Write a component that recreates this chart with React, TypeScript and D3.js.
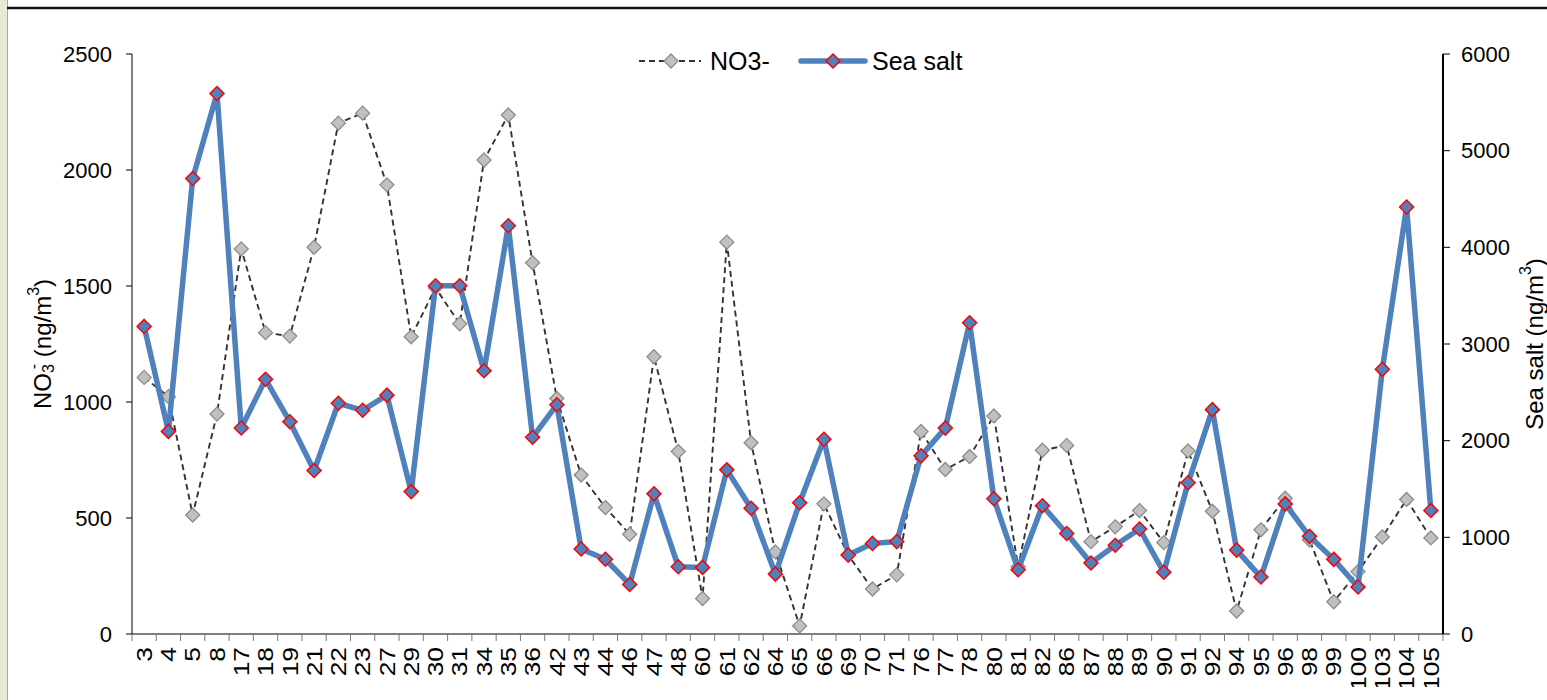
import React from 'react';
import * as d3 from 'd3';

const categories = ['3','4','5','8','17','18','19','21','22','23','27','29','30','31','34','35','36','42','43','44','46','47','48','60','61','62','64','65','66','69','70','71','76','77','78','80','81','82','86','87','88','89','90','91','92','94','95','96','98','99','100','103','104','105'];

const no3 = [1106,1023,513,948,1660,1299,1284,1667,2202,2245,1936,1281,1492,1337,2043,2237,1600,1015,685,545,430,1195,787,153,1689,824,354,35,561,340,194,255,873,709,765,940,290,792,813,398,462,532,394,789,529,99,449,585,406,139,269,418,580,414];

const seaSalt = [3182,2096,4712,5592,2131,2635,2196,1691,2387,2314,2471,1473,3603,3603,2723,4223,2035,2372,880,773,513,1450,696,689,1698,1301,620,1358,2015,818,937,956,1843,2130,3220,1400,665,1327,1040,734,918,1086,639,1564,2321,868,589,1346,1010,772,486,2738,4417,1277];

const leftTicks = [0, 500, 1000, 1500, 2000, 2500];
const rightTicks = [0, 1000, 2000, 3000, 4000, 5000, 6000];
const seriesNames = ['NO3-', 'Sea salt'];

const W = 1547, H = 700;
const X0 = 132, X1 = 1443, Y0 = 634, Y1 = 54;
const FONT = 'Liberation Sans, Arial, sans-serif';
const BLUE = '#4F81BD';

const diamond = (r: number) => `M0,${-r}L${r},0L0,${r}L${-r},0Z`;

export default function App() {
  const x = d3.scaleBand<string>().domain(categories).range([X0, X1]).padding(0);
  const cx = (c: string) => (x(c) as number) + x.bandwidth() / 2;
  const yL = d3.scaleLinear().domain([0, 2500]).range([Y0, Y1]);
  const yR = d3.scaleLinear().domain([0, 6000]).range([Y0, Y1]);

  const lineL = d3.line<number>().x((_, i) => cx(categories[i])).y(d => yL(d));
  const lineR = d3.line<number>().x((_, i) => cx(categories[i])).y(d => yR(d));

  const boundaries = d3.range(categories.length + 1).map(i => X0 + i * x.bandwidth());

  return (
    <div style={{ position: 'absolute', left: 0, top: 0 }}>
      <svg width={W} height={H} style={{ display: 'block', background: '#fff' }} fontFamily={FONT}>
        <defs>
          <clipPath id="chartClip">
            <rect x={0} y={0} width={W} height={687} />
          </clipPath>
        </defs>
        {/* frame */}
        <rect x={0} y={0} width={7} height={H} fill="#EAE9D6" />
        <line x1={7.5} y1={0} x2={7.5} y2={H} stroke="#A8A8A0" strokeWidth={1} />
        <line x1={7} y1={8} x2={W} y2={8} stroke="#111" strokeWidth={2.5} />

        {/* left axis */}
        <line x1={X0} y1={Y1} x2={X0} y2={Y0} stroke="#000" strokeWidth={1} />
        {leftTicks.map(t => (
          <g key={'l' + t}>
            <line x1={X0 - 6} x2={X0} y1={yL(t)} y2={yL(t)} stroke="#000" strokeWidth={1} />
            <text x={112} y={yL(t)} textAnchor="end" dominantBaseline="central" fontSize={22} fill="#000">{t}</text>
          </g>
        ))}
        {/* right axis */}
        <line x1={X1} y1={Y1} x2={X1} y2={Y0} stroke="#000" strokeWidth={2} />
        {rightTicks.map(t => (
          <g key={'r' + t}>
            <line x1={X1} x2={X1 + 7} y1={yR(t)} y2={yR(t)} stroke="#000" strokeWidth={1} />
            <text x={1461} y={yR(t)} textAnchor="start" dominantBaseline="central" fontSize={22} fill="#000">{t}</text>
          </g>
        ))}
        {/* bottom axis */}
        <line x1={X0} y1={Y0} x2={X1} y2={Y0} stroke="#000" strokeWidth={1.2} />
        {boundaries.map((b, i) => (
          <line key={'b' + i} x1={b} x2={b} y1={Y0} y2={Y0 + 7} stroke="#777" strokeWidth={1} />
        ))}
        <g clipPath="url(#chartClip)">
          {categories.map(c => (
            <text key={'c' + c} transform={`translate(${cx(c)},647) rotate(-90) scale(1.2,1)`} textAnchor="end" dominantBaseline="central" fontSize={22} fill="#000">{c}</text>
          ))}
        </g>

        {/* axis titles */}
        <text transform={`translate(42,${(Y0 + Y1) / 2}) rotate(-90)`} textAnchor="middle" dominantBaseline="central" fontSize={24} fill="#000">
          NO<tspan fontSize={16} dy={6}>3</tspan><tspan fontSize={16} dy={-15} dx={-5}>-</tspan><tspan dy={9}> (ng/m</tspan><tspan fontSize={16} dy={-9}>3</tspan><tspan dy={9}>)</tspan>
        </text>
        <text transform={`translate(1534,${(Y0 + Y1) / 2}) rotate(-90)`} textAnchor="middle" dominantBaseline="central" fontSize={24} fill="#000">
          Sea salt (ng/m<tspan fontSize={16} dy={-9}>3</tspan><tspan dy={9}>)</tspan>
        </text>

        {/* NO3 series */}
        <path d={lineL(no3) || ''} fill="none" stroke="#333" strokeWidth={1.9} strokeDasharray="6,4" />
        {no3.map((v, i) => (
          <path key={'n' + i} d={diamond(7)} transform={`translate(${cx(categories[i])},${yL(v)})`} fill="#C0C0C0" stroke="#8C8C8C" strokeWidth={1.3} />
        ))}

        {/* Sea salt series */}
        <path d={lineR(seaSalt) || ''} fill="none" stroke={BLUE} strokeWidth={5.5} strokeLinejoin="round" />
        {seaSalt.map((v, i) => (
          <path key={'s' + i} d={diamond(7)} transform={`translate(${cx(categories[i])},${yR(v)})`} fill={BLUE} stroke="#FF0000" strokeWidth={1.5} />
        ))}

        {/* legend */}
        <g>
          <line x1={639} x2={701} y1={61} y2={61} stroke="#333" strokeWidth={1.9} strokeDasharray="6,4" />
          <path d={diamond(7)} transform="translate(671,61)" fill="#C0C0C0" stroke="#8C8C8C" strokeWidth={1.3} />
          <text x={710} y={61} dominantBaseline="central" fontSize={25} fill="#000">{seriesNames[0]}</text>
          <line x1={801} x2={865} y1={61} y2={61} stroke={BLUE} strokeWidth={5.5} strokeLinecap="round" />
          <path d={diamond(7)} transform="translate(833,61)" fill={BLUE} stroke="#FF0000" strokeWidth={1.5} />
          <text x={872} y={61} dominantBaseline="central" fontSize={25} fill="#000">{seriesNames[1]}</text>
        </g>
      </svg>
    </div>
  );
}
